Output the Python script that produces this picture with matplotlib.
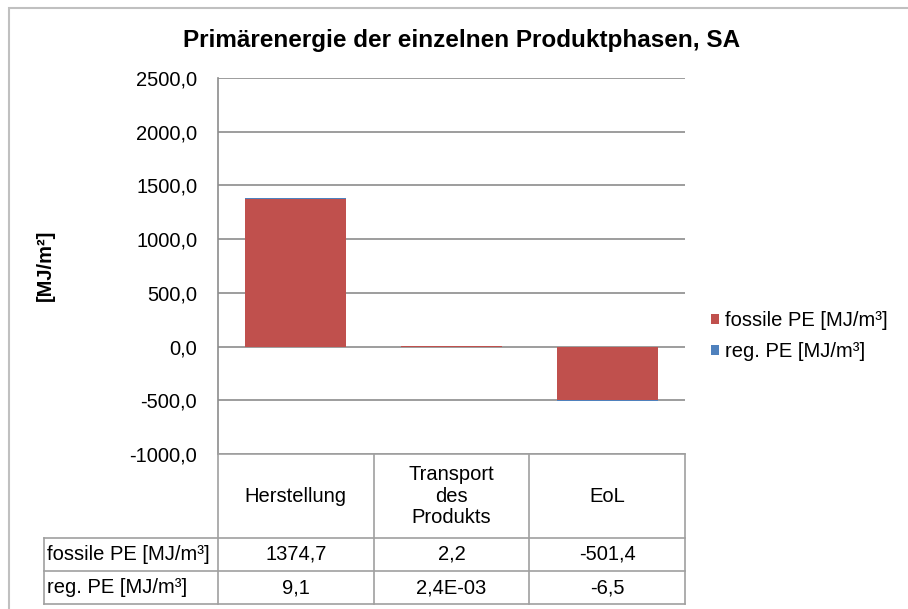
import matplotlib
matplotlib.use('Agg')
import matplotlib.pyplot as plt
from matplotlib.patches import Rectangle

plt.rcParams['font.family'] = ['Liberation Sans', 'DejaVu Sans']

# Daten
categories = ['Herstellung', 'Transport\ndes\nProdukts', 'EoL']
fossil_pe = [1374.7, 2.2, -501.4]
reg_pe = [9.1, 0.0024, -6.5]
fossil_labels = ['1374,7', '2,2', '-501,4']
reg_labels = ['9,1', '2,4E-03', '-6,5']
series_names = ['fossile PE [MJ/m³]', 'reg. PE [MJ/m³]']
y_ticks = [-1000, -500, 0, 500, 1000, 1500, 2000, 2500]

W, H = 908, 609
RED = '#C0504D'
BLUE = '#4F81BD'
GRID = '#8C8C8C'
LINE = '#A0A0A0'
FS = 14.5


def box(x0, y0, x1, y1):
    # Pixelbox (oben links = 0,0) -> Figure-Rechteck
    return [x0 / W, 1 - y1 / H, (x1 - x0) / W, (y1 - y0) / H]


fig = plt.figure(figsize=(W / 100, H / 100), dpi=100)

# Rahmen um das Diagramm
fig.patches.append(Rectangle((9 / W, -0.1), 1.2, 1 - 8 / H + 0.1, transform=fig.transFigure,
                             fill=False, ec='#C0C0C0', lw=1.5))

ax = fig.add_axes(box(218, 78, 685, 454))
x = list(range(len(categories)))
bw = 0.65
b1 = ax.bar(x, fossil_pe, bw, color=RED, zorder=3)
reg_bottom = [f if (f >= 0) == (r >= 0) else 0 for f, r in zip(fossil_pe, reg_pe)]
b2 = ax.bar(x, reg_pe, bw, bottom=reg_bottom, color=BLUE, zorder=3)

ax.set_xlim(-0.5, 2.5)
ax.set_ylim(-1000, 2500)
ax.set_yticks(y_ticks)
ax.set_yticklabels([f'{v:.1f}'.replace('.', ',') for v in y_ticks], fontsize=FS)
ax.set_xticks([])
ax.tick_params(axis='y', length=0, pad=15)
ax.yaxis.grid(True, color=GRID, lw=1.2, zorder=0)
for s in ['top', 'right', 'bottom']:
    ax.spines[s].set_visible(False)
ax.spines['left'].set_color(GRID)
ax.spines['left'].set_linewidth(1.2)

fig.text(462 / W, 1 - 40 / H, 'Primärenergie der einzelnen Produktphasen, SA',
         ha='center', va='center', fontsize=17.5, fontweight='bold')
fig.text(45 / W, 1 - 265 / H, '[MJ/m²]', rotation=90, ha='center', va='center',
         fontsize=FS, fontweight='bold')

# Datentabelle
tax = fig.add_axes(box(218, 454, 685, 604))
tax.set_xlim(-0.5, 2.5)
tax.set_ylim(150, 0)
tax.axis('off')
xl = -0.5 - 174 / (467 / 3)
rows = [0, 84, 117, 150]
kw = dict(color=LINE, lw=1.2, clip_on=False)
tax.plot([-0.5, 2.5], [0, 0], **kw)
for r in rows[1:]:
    tax.plot([xl, 2.5], [r, r], **kw)
for i in range(len(categories) + 1):
    tax.plot([i - 0.5, i - 0.5], [0, 150], **kw)
tax.plot([xl, xl], [rows[1], rows[3]], **kw)

for i, c in enumerate(categories):
    tax.text(i, rows[1] / 2, c, ha='center', va='center', fontsize=FS, linespacing=1.15)
    tax.text(i, (rows[1] + rows[2]) / 2, fossil_labels[i], ha='center', va='center', fontsize=FS)
    tax.text(i, (rows[2] + rows[3]) / 2, reg_labels[i], ha='center', va='center', fontsize=FS)
for j, name in enumerate(series_names):
    tax.text(xl + 0.02, (rows[j + 1] + rows[j + 2]) / 2, name, ha='left', va='center', fontsize=FS)

fig.legend([b1, b2], series_names, loc='center left', bbox_to_anchor=(701 / W, 1 - 336 / H),
           frameon=False, fontsize=FS, handlelength=0.4, handleheight=0.4,
           handletextpad=0.3, labelspacing=0.6, borderpad=0)

fig.savefig('out.png', dpi=100)
